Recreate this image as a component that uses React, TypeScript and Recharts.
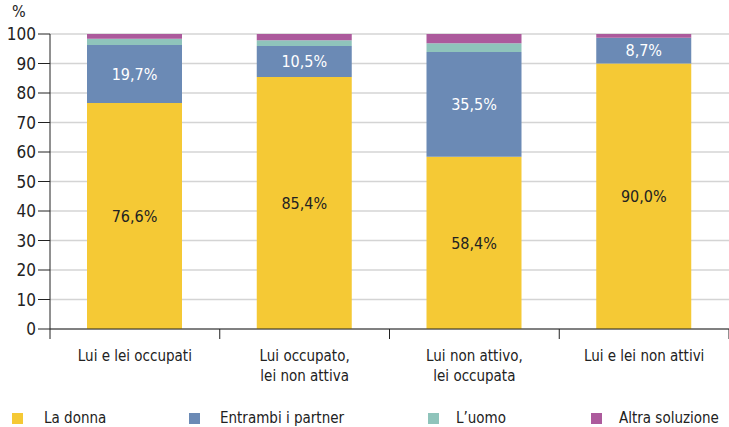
import React from 'react'
import { BarChart, Bar, XAxis, YAxis, CartesianGrid, LabelList } from 'recharts'

const categories = [
  ['Lui e lei occupati'],
  ['Lui occupato,', 'lei non attiva'],
  ['Lui non attivo,', 'lei occupata'],
  ['Lui e lei non attivi'],
]
const laDonna = [76.6, 85.4, 58.4, 90.0]
const entrambi = [19.7, 10.5, 35.5, 8.7]
const luomo = [2.1, 2.0, 3.0, 0]
const altra = [1.6, 2.1, 3.1, 1.3]
const yTicks = [0, 10, 20, 30, 40, 50, 60, 70, 80, 90, 100]

const series = [
  { key: 'donna', name: 'La donna', color: '#F5C935', labelColor: '#222', showLabel: true },
  { key: 'entrambi', name: 'Entrambi i partner', color: '#6B8AB5', labelColor: '#fff', showLabel: true },
  { key: 'uomo', name: 'L\u2019uomo', color: '#8FC4BB', labelColor: '#222', showLabel: false },
  { key: 'altra', name: 'Altra soluzione', color: '#AC5A9C', labelColor: '#222', showLabel: false },
]

const data = categories.map((lines, i) => ({
  name: lines.join(' '),
  lines,
  donna: laDonna[i],
  entrambi: entrambi[i],
  uomo: luomo[i],
  altra: altra[i],
}))

const FONT = '"Liberation Sans Narrow", "DejaVu Sans Condensed", "Roboto Condensed", sans-serif'
const fmt = (v: number) => v.toFixed(1).replace('.', ',') + '%'

const BAND = 679 / 4

// category labels centred in the band, tick marks on the band edges
const CategoryTick = (props: any) => {
  const { x, y, payload, index } = props
  const lines = data[payload.index ?? index]?.lines ?? [payload.value]
  const left = x - BAND / 2
  return (
    <g>
      <line x1={left} y1={y - 8} x2={left} y2={y + 2} stroke="#222" strokeWidth={1} />
      {index === categories.length - 1 && (
        <line x1={x + BAND / 2} y1={y - 8} x2={x + BAND / 2} y2={y + 2} stroke="#222" />
      )}
      {lines.map((l: string, k: number) => (
        <text key={k} x={x} y={y + 24 + k * 20} textAnchor="middle" fill="#222" fontSize={15} fontFamily={FONT}>
          {l}
        </text>
      ))}
    </g>
  )
}

const legendLeft = [12, 189, 428, 591]

export default function App() {
  return (
    <div style={{ position: 'absolute', left: 0, top: 0, width: 729, height: 427, overflow: 'hidden', background: '#fff' }}>
      <div style={{ position: 'absolute', left: 12, top: 2, fontFamily: FONT, fontSize: 16, color: '#222' }}>%</div>
      <BarChart
        width={729}
        height={427}
        data={data}
        margin={{ top: 34, right: 0, left: 0, bottom: 38 }}
        barCategoryGap={0}
      >
        <CartesianGrid vertical={false} stroke="#d4d4d4" strokeWidth={1.5} />
        <YAxis
          domain={[0, 100]}
          ticks={yTicks}
          width={50}
          axisLine={{ stroke: '#222' }}
          tickLine={{ stroke: '#222' }}
          tickSize={12}
          tick={{ fill: '#222', fontSize: 17, fontFamily: FONT }}
          tickMargin={2}
        />
        <XAxis
          dataKey="name"
          height={60}
          axisLine={{ stroke: '#222' }}
          tickLine={false}
          interval={0}
          tick={<CategoryTick />}
        />
        {series.map((s) => (
          <Bar key={s.key} dataKey={s.key} name={s.name} stackId="a" fill={s.color} barSize={95} isAnimationActive={false}>
            {s.showLabel && (
              <LabelList
                dataKey={s.key}
                position="center"
                formatter={(v: any) => fmt(Number(v))}
                fill={s.labelColor}
                fontSize={16}
                fontFamily={FONT}
              />
            )}
          </Bar>
        ))}
      </BarChart>
      {series.map((s, i) => (
        <div
          key={s.key}
          style={{ position: 'absolute', left: legendLeft[i], top: 409, display: 'flex', alignItems: 'center', fontFamily: FONT, fontSize: 15, color: '#222' }}
        >
          <span style={{ display: 'inline-block', width: 11, height: 11, background: s.color, marginRight: i === 1 ? 20 : i === 0 ? 21 : 17 }} />
          <span>{s.name}</span>
        </div>
      ))}
    </div>
  )
}
